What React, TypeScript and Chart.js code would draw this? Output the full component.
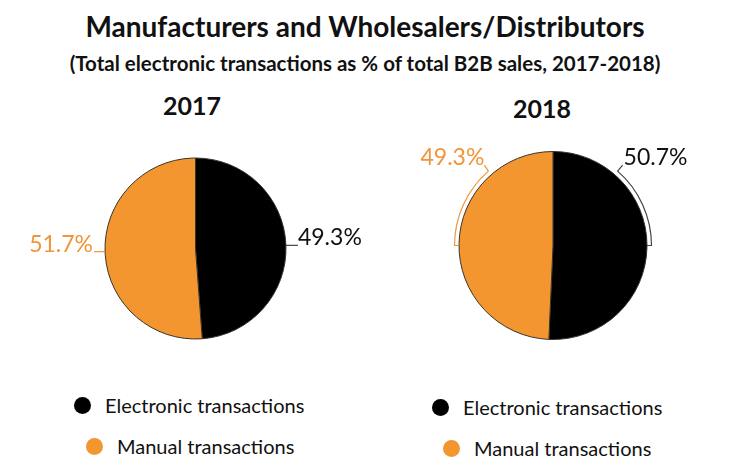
import React, { useEffect, useRef } from "react";
import { Chart, registerables } from "chart.js";

Chart.register(...registerables);

const categories = ["Electronic transactions", "Manual transactions"];
const values2017 = [49.3, 51.7];
const values2018 = [50.7, 49.3];
const years = ["2017", "2018"];
const sliceColors = ["#000000", "#F3962F"];
const labelColors = ["#111111", "#F0953A"];

const FONT = "Lato, 'Open Sans', sans-serif";

type LabelSpec = {
  mode: "line" | "bracket";
  angles: number[]; // degrees clockwise from north, per slice
  endAngles?: number[];
};

const sliceLabelPlugin = {
  id: "sliceLabels",
  afterDatasetsDraw(chart: any, _args: any, opts: any) {
    const spec: LabelSpec = opts.spec;
    if (!spec) return;
    const meta = chart.getDatasetMeta(0);
    const values: number[] = chart.data.datasets[0].data;
    const ctx = chart.ctx;
    ctx.save();
    ctx.font = `400 23px ${FONT}`;
    ctx.textBaseline = "alphabetic";
    ctx.lineWidth = 1.2;
    meta.data.forEach((arc: any, i: number) => {
      const { x: cx, y: cy, outerRadius: r } = arc.getProps(["x", "y", "outerRadius"], true);
      const color = labelColors[i];
      const text = values[i].toFixed(1) + "%";
      const a = (spec.angles[i] * Math.PI) / 180;
      const right = Math.sin(a) > 0;
      ctx.strokeStyle = i === 0 ? "#444" : color;
      ctx.fillStyle = color;
      if (spec.mode === "line") {
        const px = cx + r * Math.sin(a);
        const py = cy - r * Math.cos(a);
        const ex = px + (right ? 12 : -11);
        ctx.beginPath();
        ctx.moveTo(px, py);
        ctx.lineTo(ex, py);
        ctx.stroke();
        ctx.textAlign = right ? "left" : "right";
        ctx.fillText(text, ex + (right ? 0 : -1), py);
      } else {
        const R = r + 4.5;
        const a2 = ((spec.endAngles as number[])[i] * Math.PI) / 180;
        const sx = cx + R * Math.sin(a);
        const sy = cy - R * Math.cos(a);
        const tx = sx + (right ? 5 : -4);
        const ty = sy - 6;
        ctx.beginPath();
        ctx.moveTo(tx, ty);
        ctx.lineTo(sx, sy);
        ctx.arc(cx, cy, R, a - Math.PI / 2, a2 - Math.PI / 2, !right);
        ctx.lineTo(cx + r * Math.sin(a2), cy - r * Math.cos(a2));
        ctx.stroke();
        ctx.textAlign = right ? "left" : "right";
        ctx.fillText(text, tx + (right ? 1 : 0), ty);
      }
    });
    ctx.restore();
  },
};

type PieProps = {
  values: number[];
  left: number;
  top: number;
  width: number;
  height: number;
  radius: number;
  padding: { left: number; right: number; top: number; bottom: number };
  spec: LabelSpec;
};

function Pie(props: PieProps) {
  const ref = useRef<HTMLCanvasElement | null>(null);
  useEffect(() => {
    if (!ref.current) return;
    const chart = new Chart(ref.current, {
      type: "pie",
      data: {
        labels: categories,
        datasets: [
          {
            data: props.values,
            backgroundColor: sliceColors,
            borderColor: "#3a3328",
            borderWidth: 1,
            radius: props.radius,
          } as any,
        ],
      },
      options: {
        animation: false,
        responsive: false,
        maintainAspectRatio: false,
        layout: { padding: props.padding },
        plugins: {
          legend: { display: false },
          tooltip: { enabled: false },
          title: { display: false },
          sliceLabels: { spec: props.spec },
        } as any,
      },
      plugins: [sliceLabelPlugin],
    });
    return () => chart.destroy();
  }, []);
  return (
    <canvas
      ref={ref}
      width={props.width}
      height={props.height}
      style={{ position: "absolute", left: props.left, top: props.top, width: props.width, height: props.height }}
    />
  );
}

function LegendRow(props: { x: number; y: number; color: string; text: string }) {
  return (
    <div
      style={{
        position: "absolute",
        left: props.x - 9,
        top: props.y - 12,
        height: 24,
        display: "flex",
        alignItems: "center",
        whiteSpace: "nowrap",
        fontFamily: FONT,
        fontSize: 20,
        color: "#111",
      }}
    >
      <span
        style={{
          display: "inline-block",
          width: 17,
          height: 17,
          borderRadius: "50%",
          background: props.color,
          marginRight: 14,
        }}
      />
      <span>{props.text}</span>
    </div>
  );
}

export default function App() {
  const abs = (x: number, y: number, w: number): React.CSSProperties => ({
    position: "absolute",
    left: x,
    top: y,
    width: w,
    textAlign: "center",
    fontFamily: FONT,
    fontWeight: 700,
    color: "#111",
    whiteSpace: "nowrap",
  });
  return (
    <div style={{ position: "absolute", left: 0, top: 0, width: 730, height: 471, background: "#fff", overflow: "hidden" }}>
      <div style={{ ...abs(0, 9, 730), fontSize: 28 }}>Manufacturers and Wholesalers/Distributors</div>
      <div style={{ ...abs(0, 51, 730), fontSize: 20.5 }}>(Total electronic transactions as % of total B2B sales, 2017-2018)</div>
      <div style={{ ...abs(92, 90, 200), fontSize: 25 }}>{years[0]}</div>
      <div style={{ ...abs(442, 93, 200), fontSize: 25 }}>{years[1]}</div>
      <Pie
        values={values2017}
        left={0}
        top={130}
        width={365}
        height={240}
        radius={90.5}
        padding={{ left: 105, right: 79, top: 28, bottom: 31 }}
        spec={{ mode: "line", angles: [88, 268] }}
      />
      <Pie
        values={values2018}
        left={365}
        top={130}
        width={365}
        height={240}
        radius={94}
        padding={{ left: 94, right: 83, top: 21.5, bottom: 30.5 }}
        spec={{ mode: "bracket", angles: [41, -41], endAngles: [90, -90] }}
      />
      <LegendRow x={83} y={405} color={sliceColors[0]} text={categories[0]} />
      <LegendRow x={95} y={446} color={sliceColors[1]} text={categories[1]} />
      <LegendRow x={441} y={407} color={sliceColors[0]} text={categories[0]} />
      <LegendRow x={452} y={448} color={sliceColors[1]} text={categories[1]} />
    </div>
  );
}
